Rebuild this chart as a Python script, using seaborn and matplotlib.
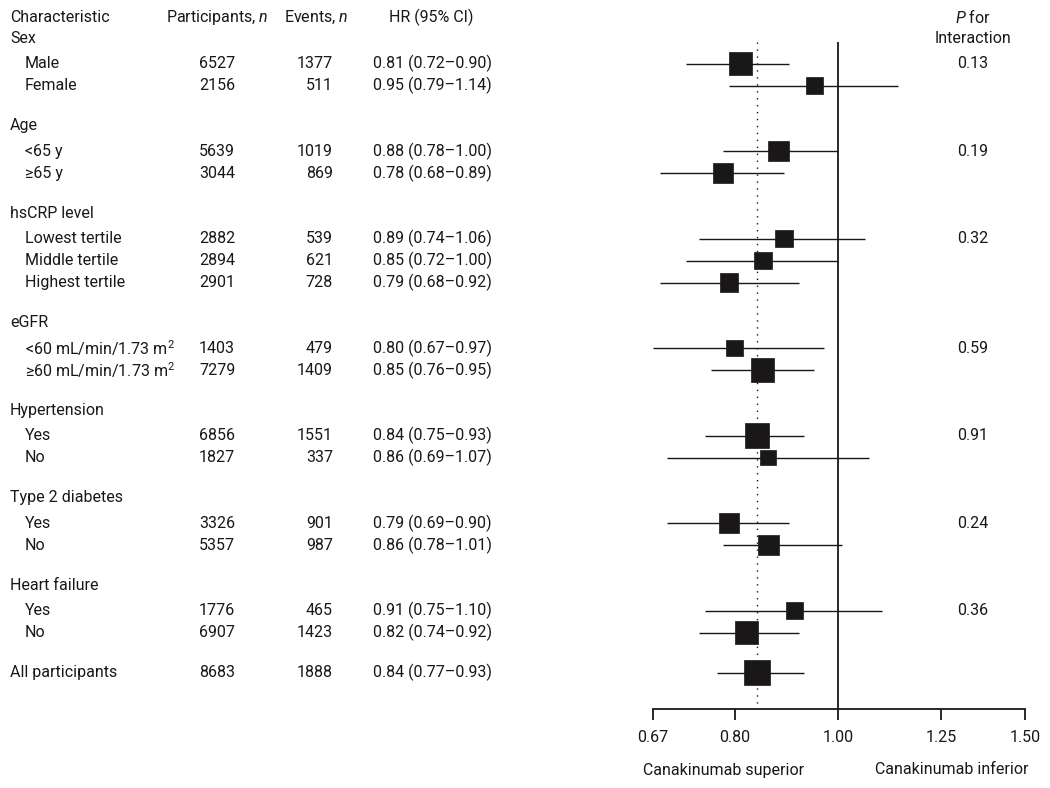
import matplotlib
matplotlib.use("Agg")
import matplotlib.pyplot as plt
from matplotlib.ticker import NullLocator
import seaborn as sns
import pandas as pd

# data
groups = ["Sex", "Age", "hsCRP level", "eGFR", "Hypertension", "Type 2 diabetes", "Heart failure"]
subgroups = [["Male", "Female"],
             ["<65 y", "≥65 y"],
             ["Lowest tertile", "Middle tertile", "Highest tertile"],
             ["<60 mL/min/1.73 m$^2$", "≥60 mL/min/1.73 m$^2$"],
             ["Yes", "No"],
             ["Yes", "No"],
             ["Yes", "No"]]
participants = [6527, 2156, 5639, 3044, 2882, 2894, 2901, 1403, 7279, 6856, 1827, 3326, 5357, 1776, 6907]
events = [1377, 511, 1019, 869, 539, 621, 728, 479, 1409, 1551, 337, 901, 987, 465, 1423]
hr = [0.81, 0.95, 0.88, 0.78, 0.89, 0.85, 0.79, 0.80, 0.85, 0.84, 0.86, 0.79, 0.86, 0.91, 0.82]
ci_low = [0.72, 0.79, 0.78, 0.68, 0.74, 0.72, 0.68, 0.67, 0.76, 0.75, 0.69, 0.69, 0.78, 0.75, 0.74]
ci_high = [0.90, 1.14, 1.00, 0.89, 1.06, 1.00, 0.92, 0.97, 0.95, 0.93, 1.07, 0.90, 1.01, 1.10, 0.92]
p_interaction = ["0.13", "0.19", "0.32", "0.59", "0.91", "0.24", "0.36"]
all_label = "All participants"
all_participants, all_events = 8683, 1888
all_hr, all_low, all_high = 0.84, 0.77, 0.93

xticks = [0.67, 0.80, 1.00, 1.25, 1.50]

sns.set_style("white")
fam = "Roboto"
plt.rcParams["font.family"] = [fam, "DejaVu Sans"]
plt.rcParams["mathtext.fontset"] = "custom"
plt.rcParams["mathtext.rm"] = fam
plt.rcParams["mathtext.it"] = fam + ":italic"
ink = "#1a1718"
fs = 11.5

fig = plt.figure(figsize=(10.5, 7.88), dpi=100)
tx = fig.add_axes([0, 0, 1, 1])
tx.set_xlim(0, 1050)
tx.set_ylim(788, 0)
tx.axis("off")

# layout: walk down the rows (pixel units)
rows = []
y = 38
k = 0
for g, name in enumerate(groups):
    tx.text(10, y, name, fontsize=fs, color=ink, va="center")
    y += 25.5
    for j, lab in enumerate(subgroups[g]):
        rows.append(dict(label=lab, y=y, n=participants[k], ev=events[k],
                         hr=hr[k], lo=ci_low[k], hi=ci_high[k],
                         p=p_interaction[g] if j == 0 else ""))
        k += 1
        y += 22
    y += 40 - 22
rows.append(dict(label=all_label, y=y, n=all_participants, ev=all_events,
                 hr=all_hr, lo=all_low, hi=all_high, p=""))
df = pd.DataFrame(rows)

# header
tx.text(10, 17, "Characteristic", fontsize=fs, color=ink, va="center")
tx.text(217, 17, "Participants, $\\it{n}$", fontsize=fs, color=ink, va="center", ha="center")
tx.text(316, 17, "Events, $\\it{n}$", fontsize=fs, color=ink, va="center", ha="center")
tx.text(431, 17, "HR (95% CI)", fontsize=fs, color=ink, va="center", ha="center")
tx.text(973, 17, "$\\it{P}$ for", fontsize=fs, color=ink, va="center", ha="center")
tx.text(973, 38, "Interaction", fontsize=fs, color=ink, va="center", ha="center")

for r in df.itertuples():
    x_lab = 10 if r.label == all_label else 25
    tx.text(x_lab, r.y, r.label, fontsize=fs, color=ink, va="center")
    tx.text(217, r.y, f"{r.n}", fontsize=fs, color=ink, va="center", ha="center")
    tx.text(333, r.y, f"{r.ev}", fontsize=fs, color=ink, va="center", ha="right")
    tx.text(373, r.y, f"{r.hr:.2f} ({r.lo:.2f}\u2013{r.hi:.2f})", fontsize=fs, color=ink, va="center")
    if r.p:
        tx.text(973, r.y, r.p, fontsize=fs, color=ink, va="center", ha="center")

tx.text(724, 770, "Canakinumab superior", fontsize=fs, color=ink, va="center", ha="center")
tx.text(952, 770, "Canakinumab inferior", fontsize=fs, color=ink, va="center", ha="center")

# forest panel
ax = fig.add_axes([653 / 1050, 0, (1025 - 653) / 1050, 1])
ax.patch.set_alpha(0)
ax.set_xscale("log")
ax.set_xlim(0.67, 1.50)
ax.set_ylim(788, 0)

ax.vlines(1.0, 42, 709, color=ink, lw=1.3)
ax.vlines(all_hr, 42, 709, color=ink, lw=1.0, linestyles=(0, (1, 4)))
ax.hlines(df["y"], df["lo"], df["hi"], color=ink, lw=1.0)
sns.scatterplot(data=df, x="hr", y="y", size="ev", sizes=(125, 350), marker="s",
                color=ink, edgecolor=ink, linewidth=0.5, legend=False, ax=ax, zorder=3)

for s in ["top", "right", "left"]:
    ax.spines[s].set_visible(False)
ax.spines["bottom"].set_position(("data", 709))
ax.spines["bottom"].set_linewidth(1.3)
ax.spines["bottom"].set_color(ink)
ax.set_xticks(xticks)
ax.set_xticklabels([f"{t:.2f}" for t in xticks])
ax.xaxis.set_minor_locator(NullLocator())
ax.tick_params(axis="x", direction="out", length=8, width=1.3, color=ink,
               labelsize=fs, labelcolor=ink, pad=7, bottom=True)
ax.set_yticks([])
ax.set_xlabel("")
ax.set_ylabel("")

fig.savefig("out.png", dpi=100)
